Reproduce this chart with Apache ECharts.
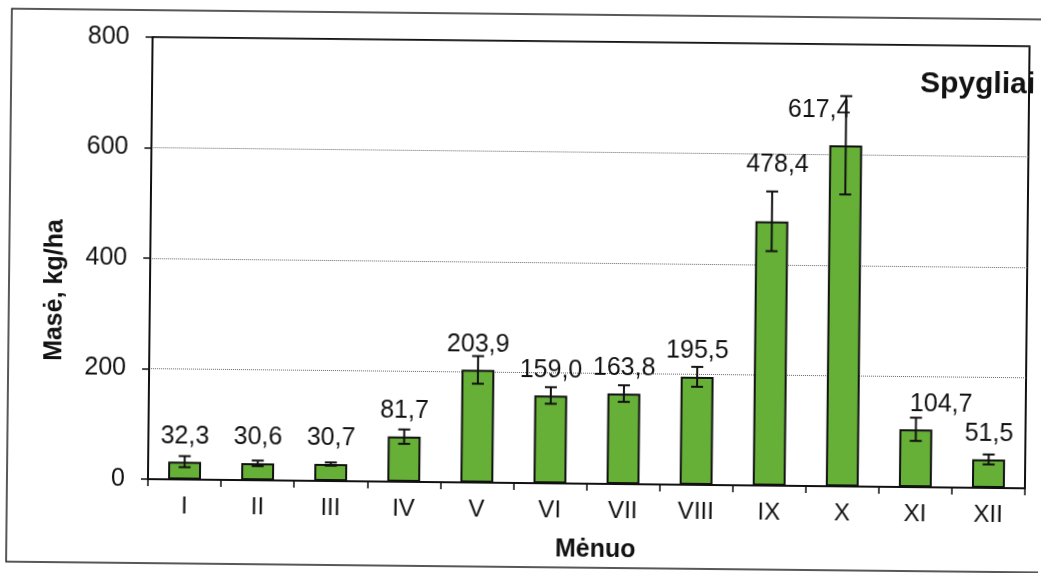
<!DOCTYPE html>
<html>
<head>
<meta charset="utf-8">
<script src="https://cdn.jsdelivr.net/npm/echarts@6/dist/echarts.min.js"></script>
<style>
  html, body { margin: 0; padding: 0; background: #fff; overflow: hidden; }
  #chart { width: 1041px; height: 573px; transform: rotate(0.6deg); transform-origin: 520px 286px; }
</style>
</head>
<body>
<div id="chart"></div>
<script>
// Monthly needle litterfall mass (kg/ha) with error bars
const months = ['I', 'II', 'III', 'IV', 'V', 'VI', 'VII', 'VIII', 'IX', 'X', 'XI', 'XII'];
const mass = [32.3, 30.6, 30.7, 81.7, 203.9, 159.0, 163.8, 195.5, 478.4, 617.4, 104.7, 51.5];
const errors = [10, 5, 3, 13, 25, 15, 15, 18, 54, 89, 21, 9];
const yTicks = [0, 200, 400, 600, 800];

const FONT = '"Liberation Sans", Arial, sans-serif';
const GREEN = '#66b038';

// a few value labels are nudged so they don't collide with tall error bars
const labelNudge = { 8: [5, -31], 9: [-27, -9], 10: [25, 0] };

const fmt = v => v.toFixed(1).replace('.', ',');

const barData = mass.map((v, i) => {
  const item = { value: v };
  if (labelNudge[i]) item.label = { offset: labelNudge[i] };
  return item;
});

const chart = echarts.init(document.getElementById('chart'));
chart.setOption({
  backgroundColor: '#fff',
  animation: false,
  grid: {
    left: 150, right: 14, top: 41, bottom: 90,
    show: true, borderColor: '#111', borderWidth: 2
  },
  xAxis: {
    type: 'category',
    data: months,
    boundaryGap: true,
    axisLine: { lineStyle: { color: '#111', width: 2 } },
    axisTick: { show: true, length: 7, lineStyle: { color: '#111', width: 1.5 } },
    axisLabel: { fontSize: 24, color: '#111', fontFamily: FONT, margin: 15 }
  },
  yAxis: {
    type: 'value',
    min: yTicks[0],
    max: yTicks[yTicks.length - 1],
    interval: yTicks[1] - yTicks[0],
    axisLine: { show: true, lineStyle: { color: '#111', width: 2 } },
    axisTick: { show: true, length: 7, lineStyle: { color: '#111', width: 1.5 } },
    axisLabel: { fontSize: 25, color: '#111', fontFamily: FONT, margin: 23 },
    splitLine: { show: true, lineStyle: { color: '#666', type: 'dotted', width: 1 } }
  },
  series: [
    {
      type: 'bar',
      data: barData,
      barWidth: '45%',
      itemStyle: { color: GREEN, borderColor: '#111', borderWidth: 2 },
      label: {
        show: true,
        position: 'top',
        distance: 13,
        fontSize: 25,
        color: '#111',
        fontFamily: FONT,
        formatter: p => fmt(p.value)
      },
      z: 2
    },
    {
      type: 'custom',
      data: months.map((m, i) => [i, mass[i], errors[i]]),
      encode: { x: 0, y: 1 },
      renderItem: (params, api) => {
        const x = api.value(0), v = api.value(1), e = api.value(2);
        const hi = api.coord([x, v + e]);
        const lo = api.coord([x, v - e]);
        const cap = 6;
        const st = { stroke: '#111', lineWidth: 2 };
        return {
          type: 'group',
          children: [
            { type: 'line', shape: { x1: hi[0], y1: hi[1], x2: lo[0], y2: lo[1] }, style: st },
            { type: 'line', shape: { x1: hi[0] - cap, y1: hi[1], x2: hi[0] + cap, y2: hi[1] }, style: st },
            { type: 'line', shape: { x1: lo[0] - cap, y1: lo[1], x2: lo[0] + cap, y2: lo[1] }, style: st }
          ]
        };
      },
      z: 3
    }
  ],
  graphic: [
    {
      type: 'rect',
      shape: { x: 9, y: 14, width: 1100, height: 553 },
      style: { fill: 'none', stroke: '#222', lineWidth: 1.5 },
      silent: true
    },
    {
      type: 'text',
      x: 55, y: 295,
      rotation: Math.PI / 2,
      style: {
        text: 'Masė, kg/ha', font: 'bold 25px ' + FONT, fill: '#111',
        align: 'center', verticalAlign: 'middle'
      }
    },
    {
      type: 'text',
      x: 598, y: 549,
      style: {
        text: 'Mėnuo', font: 'bold 25px ' + FONT, fill: '#111',
        align: 'center', verticalAlign: 'middle'
      }
    },
    {
      type: 'text',
      x: 1033, y: 80,
      style: {
        text: 'Spygliai', font: 'bold 30px ' + FONT, fill: '#111',
        align: 'right', verticalAlign: 'middle'
      }
    }
  ]
});
</script>
</body>
</html>
